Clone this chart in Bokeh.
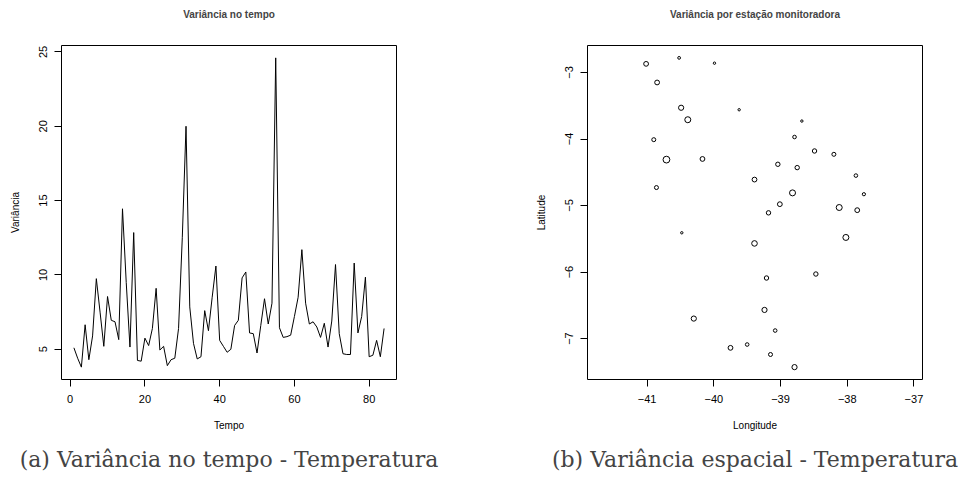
from bokeh.plotting import figure
from bokeh.layouts import row
from bokeh.models import Range1d, Title, FixedTicker
from bokeh.embed import file_html
from bokeh.resources import INLINE

# ---- data: variance over time ----
tempo = list(range(1, 85))
variancia_tempo = [
    5.1, 4.4, 3.8, 6.65, 4.3, 5.9, 9.75, 7.5, 5.2, 8.55,
    6.95, 6.85, 5.65, 14.45, 9.5, 5.15, 12.85, 4.25, 4.2, 5.75,
    5.25, 6.4, 9.1, 4.95, 5.2, 3.9, 4.3, 4.4, 6.4, 12.5,
    20.0, 7.85, 5.4, 4.35, 4.5, 7.6, 6.25, 8.5, 10.6, 5.6,
    5.2, 4.8, 5.0, 6.6, 6.95, 9.8, 10.2, 6.1, 6.05, 4.75,
    6.6, 8.4, 6.7, 8.1, 24.6, 6.45, 5.8, 5.85, 5.95, 7.2,
    8.5, 11.7, 8.1, 6.7, 6.85, 6.5, 5.8, 6.75, 5.15, 6.9,
    10.7, 6.05, 4.7, 4.65, 4.65, 10.8, 6.1, 7.2, 9.85, 4.5,
    4.6, 5.6, 4.5, 6.4,
]
x_ticks_tempo = [0, 20, 40, 60, 80]
y_ticks_tempo = [5, 10, 15, 20, 25]

# ---- data: variance per monitoring station ----
longitude = [
    -41.015, -40.52, -39.99, -40.85, -40.49, -39.62, -40.39, -40.90, -40.71, -40.17,
    -40.86, -40.48, -38.68, -38.79, -38.49, -38.20, -39.04, -38.75, -39.39, -37.87,
    -38.82, -37.75, -39.01, -38.12, -37.85, -39.18, -38.02, -39.39, -39.21, -38.47,
    -39.24, -39.08, -39.75, -39.50, -39.15, -38.79, -40.30,
]
latitude = [
    -2.87, -2.78, -2.86, -3.15, -3.53, -3.56, -3.71, -4.01, -4.31, -4.30,
    -4.73, -5.41, -3.73, -3.97, -4.18, -4.23, -4.38, -4.43, -4.61, -4.55,
    -4.81, -4.83, -4.98, -5.03, -5.07, -5.11, -5.48, -5.57, -6.09, -6.03,
    -6.57, -6.88, -7.14, -7.09, -7.24, -7.43, -6.70,
]
variancia_estacao = [
    6.0, 3.5, 3.0, 6.0, 6.5, 3.0, 7.5, 5.0, 8.5, 6.0,
    5.0, 3.0, 3.0, 4.5, 5.5, 5.0, 5.5, 5.5, 6.0, 4.5,
    7.5, 4.0, 6.0, 7.5, 6.0, 5.5, 7.5, 7.0, 5.5, 5.5,
    6.5, 4.5, 6.0, 4.5, 5.0, 6.5, 6.5,
]
x_ticks_lon = [-41, -40, -39, -38, -37]
y_ticks_lat = [-3, -4, -5, -6, -7]

FONT = "Liberation Sans"
SERIF = "DejaVu Serif"
MINUS = "\u2212"


def r_range(vals):
    lo, hi = min(vals), max(vals)
    ext = 0.04 * (hi - lo)
    return lo - ext, hi + ext


def style(p, title, xlabel, ylabel, caption):
    # spacer between frame and title (added first -> closest to the frame)
    p.add_layout(Title(text=" ", text_font_size="17px", standoff=0), "above")
    p.add_layout(Title(text=title, align="center", text_font=FONT,
                       text_font_size="10px", text_font_style="bold"), "above")
    p.grid.visible = False
    p.outline_line_color = "black"
    p.outline_line_alpha = 1
    p.outline_line_width = 1
    p.background_fill_color = "white"
    p.border_fill_color = "white"
    for ax in (p.xaxis[0], p.yaxis[0]):
        ax.axis_line_color = None
        ax.major_tick_out = 7
        ax.major_tick_in = 0
        ax.major_tick_line_color = "black"
        ax.minor_tick_line_color = None
        ax.major_label_text_font = FONT
        ax.major_label_text_font_size = "11px"
        ax.major_label_text_color = "black"
        ax.axis_label_text_font = FONT
        ax.axis_label_text_font_size = "10px"
        ax.axis_label_text_font_style = "normal"
        ax.axis_label_text_color = "black"
    p.xaxis.axis_label = xlabel
    p.yaxis.axis_label = ylabel
    p.xaxis.major_label_standoff = 8
    p.xaxis.axis_label_standoff = 14
    p.yaxis.major_label_standoff = 7
    p.yaxis.axis_label_standoff = 16
    p.yaxis.major_label_orientation = "vertical"
    p.add_layout(Title(text=caption, align="center", text_font=SERIF,
                       text_font_size="22px", text_font_style="normal",
                       standoff=23), "below")


# ---- left: time series ----
x0, x1 = r_range(tempo)
y0, y1 = r_range(variancia_tempo)
p1 = figure(width=481, height=489, x_range=Range1d(x0, x1), y_range=Range1d(y0, y1),
            title=None, output_backend="svg", toolbar_location=None,
            min_border_left=61, min_border_right=85, min_border_top=45, min_border_bottom=110)
p1.line(tempo, variancia_tempo, line_color="black", line_width=1)
p1.xaxis.ticker = FixedTicker(ticks=x_ticks_tempo)
p1.yaxis.ticker = FixedTicker(ticks=y_ticks_tempo)
style(p1, "Variância no tempo", "Tempo", "Variância",
      "(a) Variância no tempo - Temperatura")

# ---- right: stations (aspect 1) ----
la0, la1 = r_range(latitude)
span = la1 - la0
lc = (min(longitude) + max(longitude)) / 2
p2 = figure(width=482, height=489, x_range=Range1d(lc - span / 2, lc + span / 2),
            y_range=Range1d(la0, la1),
            title=None, output_backend="svg", toolbar_location=None,
            min_border_left=106, min_border_right=41, min_border_top=45, min_border_bottom=110)
p2.scatter(longitude, latitude, size=[0.8 * v for v in variancia_estacao],
           fill_color=None, line_color="black", line_width=1)
p2.xaxis.ticker = FixedTicker(ticks=x_ticks_lon)
p2.yaxis.ticker = FixedTicker(ticks=y_ticks_lat)
p2.xaxis.major_label_overrides = {t: str(t).replace("-", MINUS) for t in x_ticks_lon}
p2.yaxis.major_label_overrides = {t: str(t).replace("-", MINUS) for t in y_ticks_lat}
style(p2, "Variância por estação monitoradora", "Longitude", "Latitude",
      "(b) Variância espacial - Temperatura")

layout = row(p1, p2, spacing=0)
open("out.html", "w").write(file_html(layout, INLINE))
